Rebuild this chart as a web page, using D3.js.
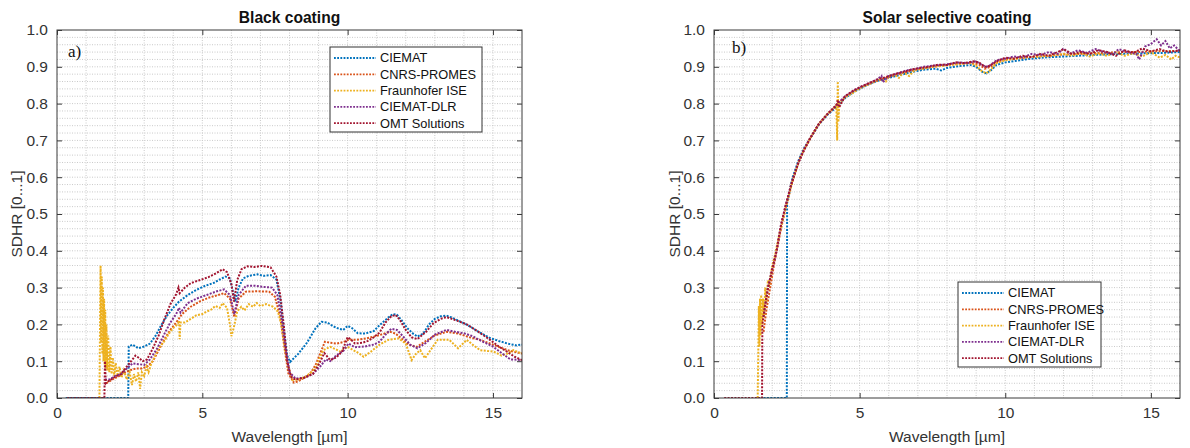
<!DOCTYPE html>
<html>
<head>
<meta charset="utf-8">
<script src="https://cdn.jsdelivr.net/npm/d3@7"></script>
<style>
  body { margin: 0; background: #fff; }
  text { font-family: "Liberation Sans", Arial, sans-serif; }
</style>
</head>
<body>
<svg id="chart" width="1190" height="448"></svg>
<script>
// Series names and colours (MATLAB default order)
const seriesNames = ['CIEMAT', 'CNRS-PROMES', 'Fraunhofer ISE', 'CIEMAT-DLR', 'OMT Solutions'];
const seriesColors = ['#0072BD', '#D95319', '#EDB120', '#7E2F8E', '#A2142F'];

// Tick labels
const xTicks = [0, 5, 10, 15];
const yTicks = [0, 0.1, 0.2, 0.3, 0.4, 0.5, 0.6, 0.7, 0.8, 0.9, 1.0];

// ---- a) Black coating: [wavelength µm, SDHR] ----
const blackCiemat = [[0.3,0],[2.45,0],[2.47,0.14],[2.6,0.145],[2.8,0.135],[3.0,0.14],[3.2,0.148],[3.4,0.17],[3.6,0.2],[3.8,0.225],[4.0,0.245],[4.2,0.262],[4.5,0.28],[4.8,0.294],[5.1,0.305],[5.4,0.313],[5.6,0.322],[5.8,0.33],[5.95,0.325],[6.05,0.29],[6.13,0.262],[6.25,0.3],[6.4,0.325],[6.6,0.332],[6.9,0.336],[7.1,0.332],[7.35,0.334],[7.55,0.322],[7.7,0.26],[7.8,0.19],[7.92,0.115],[8.02,0.098],[8.3,0.12],[8.6,0.15],[8.9,0.19],[9.1,0.207],[9.3,0.205],[9.5,0.195],[9.7,0.188],[9.85,0.185],[10.0,0.196],[10.15,0.19],[10.35,0.176],[10.6,0.175],[10.9,0.182],[11.1,0.198],[11.3,0.212],[11.55,0.228],[11.7,0.226],[11.85,0.212],[12.05,0.19],[12.25,0.175],[12.4,0.167],[12.6,0.175],[12.8,0.2],[13.0,0.215],[13.2,0.222],[13.4,0.224],[13.6,0.218],[13.9,0.207],[14.2,0.195],[14.5,0.18],[14.9,0.163],[15.2,0.155],[15.5,0.148],[15.8,0.143],[16,0.145]];
const blackCnrs = [[1.7,0.04],[1.9,0.05],[2.1,0.058],[2.3,0.068],[2.5,0.075],[2.7,0.08],[2.9,0.08],[3.1,0.085],[3.3,0.1],[3.5,0.13],[3.7,0.16],[3.9,0.185],[4.1,0.205],[4.3,0.228],[4.6,0.248],[4.9,0.262],[5.2,0.272],[5.55,0.28],[5.75,0.285],[5.95,0.27],[6.1,0.22],[6.25,0.27],[6.5,0.289],[6.9,0.29],[7.3,0.289],[7.5,0.275],[7.68,0.221],[7.82,0.14],[7.96,0.067],[8.15,0.042],[8.3,0.045],[8.5,0.055],[8.7,0.065],[8.9,0.09],[9.05,0.12],[9.22,0.153],[9.4,0.15],[9.63,0.148],[9.85,0.152],[10.03,0.158],[10.3,0.158],[10.66,0.162],[11.1,0.171],[11.46,0.18],[11.65,0.175],[11.85,0.162],[12.1,0.145],[12.38,0.139],[12.7,0.155],[13.0,0.17],[13.41,0.18],[13.8,0.175],[14.2,0.165],[14.56,0.158],[15.0,0.145],[15.5,0.13],[16,0.121]];
const blackFraunhofer = [[1.46,0],[1.48,0.2],[1.5,0.36],[1.52,0.15],[1.54,0.33],[1.56,0.12],[1.58,0.3],[1.6,0.1],[1.62,0.27],[1.64,0.09],[1.66,0.24],[1.68,0.08],[1.7,0.2],[1.73,0.075],[1.76,0.17],[1.8,0.07],[1.84,0.14],[1.88,0.065],[1.92,0.11],[1.97,0.06],[2.02,0.095],[2.08,0.06],[2.15,0.085],[2.22,0.055],[2.3,0.075],[2.4,0.05],[2.5,0.07],[2.58,0.035],[2.65,0.065],[2.72,0.045],[2.8,0.07],[2.86,0.025],[2.92,0.07],[3.0,0.06],[3.08,0.085],[3.15,0.07],[3.25,0.095],[3.35,0.11],[3.45,0.13],[3.55,0.14],[3.7,0.155],[3.85,0.175],[4.0,0.19],[4.15,0.2],[4.2,0.21],[4.22,0.16],[4.25,0.205],[4.4,0.205],[4.6,0.215],[4.8,0.225],[5.0,0.228],[5.15,0.235],[5.3,0.24],[5.45,0.25],[5.6,0.245],[5.7,0.258],[5.85,0.245],[5.95,0.2],[6.0,0.168],[6.08,0.19],[6.2,0.235],[6.34,0.248],[6.45,0.238],[6.6,0.255],[6.75,0.248],[6.87,0.258],[7.0,0.25],[7.2,0.255],[7.44,0.248],[7.6,0.235],[7.72,0.2],[7.85,0.13],[7.96,0.085],[8.1,0.049],[8.3,0.05],[8.56,0.058],[8.75,0.07],[8.93,0.085],[9.05,0.11],[9.16,0.13],[9.4,0.139],[9.6,0.132],[9.75,0.126],[10.0,0.139],[10.2,0.13],[10.4,0.121],[10.55,0.112],[10.8,0.126],[11.1,0.145],[11.4,0.158],[11.75,0.162],[12.0,0.148],[12.2,0.103],[12.35,0.12],[12.5,0.13],[12.66,0.108],[12.85,0.13],[13.1,0.158],[13.5,0.158],[13.8,0.135],[14.1,0.158],[14.3,0.145],[14.56,0.13],[15.03,0.126],[15.3,0.115],[15.5,0.121],[15.7,0.13],[16,0.121]];
const blackDlr = [[1.65,0.05],[1.8,0.05],[2.0,0.06],[2.2,0.065],[2.4,0.08],[2.6,0.094],[2.8,0.092],[3.0,0.09],[3.2,0.105],[3.45,0.135],[3.7,0.175],[3.9,0.205],[4.1,0.228],[4.2,0.245],[4.25,0.232],[4.5,0.258],[4.8,0.27],[5.15,0.28],[5.5,0.29],[5.75,0.295],[5.95,0.28],[6.1,0.228],[6.25,0.28],[6.5,0.305],[6.8,0.305],[7.1,0.302],[7.4,0.3],[7.58,0.28],[7.72,0.22],[7.85,0.14],[8.0,0.07],[8.2,0.053],[8.5,0.055],[8.8,0.065],[9.05,0.085],[9.25,0.105],[9.4,0.1],[9.63,0.117],[9.85,0.128],[10.03,0.148],[10.25,0.138],[10.6,0.14],[10.9,0.145],[11.1,0.153],[11.3,0.172],[11.5,0.188],[11.7,0.185],[11.9,0.168],[12.15,0.145],[12.4,0.135],[12.7,0.15],[13.0,0.172],[13.4,0.185],[13.7,0.18],[14.0,0.176],[14.3,0.168],[14.6,0.155],[15.0,0.14],[15.3,0.122],[15.6,0.105],[16,0.103]];
const blackOmt = [[0.35,0],[1.63,0],[1.65,0.1],[1.68,0.04],[1.75,0.045],[1.85,0.05],[2.0,0.058],[2.2,0.065],[2.4,0.085],[2.55,0.1],[2.7,0.115],[2.8,0.11],[2.95,0.1],[3.1,0.105],[3.3,0.135],[3.5,0.17],[3.7,0.215],[3.9,0.255],[4.1,0.282],[4.18,0.3],[4.22,0.285],[4.4,0.3],[4.6,0.312],[4.9,0.32],[5.2,0.328],[5.45,0.338],[5.7,0.35],[5.85,0.342],[6.0,0.31],[6.09,0.262],[6.2,0.32],[6.35,0.35],[6.55,0.358],[6.8,0.356],[7.05,0.359],[7.35,0.355],[7.55,0.33],[7.68,0.28],[7.8,0.2],[7.92,0.1],[8.05,0.058],[8.2,0.05],[8.5,0.055],[8.8,0.065],[9.0,0.09],[9.2,0.122],[9.4,0.103],[9.6,0.11],[9.8,0.125],[10.0,0.165],[10.1,0.16],[10.25,0.148],[10.5,0.15],[10.7,0.155],[10.9,0.165],[11.1,0.178],[11.3,0.205],[11.5,0.222],[11.65,0.226],[11.8,0.212],[12.0,0.185],[12.2,0.165],[12.4,0.16],[12.7,0.18],[12.95,0.203],[13.2,0.215],[13.4,0.22],[13.7,0.212],[14.1,0.2],[14.5,0.18],[14.9,0.158],[15.2,0.14],[15.5,0.125],[15.75,0.112],[16,0.103]];

// ---- b) Solar selective coating ----
const solarCiemat = [[1.7,0],[2.5,0],[2.51,0.53],[2.7,0.6],[2.9,0.645],[3.1,0.68],[3.3,0.705],[3.6,0.743],[3.9,0.77],[4.2,0.79],[4.5,0.815],[4.8,0.832],[5.0,0.84],[5.3,0.852],[5.63,0.862],[5.9,0.868],[6.2,0.874],[6.5,0.88],[6.8,0.886],[7.2,0.892],[7.6,0.895],[7.8,0.89],[8.0,0.897],[8.4,0.902],[8.8,0.905],[9.0,0.9],[9.2,0.887],[9.35,0.882],[9.5,0.89],[9.7,0.905],[10.0,0.912],[10.5,0.918],[11,0.923],[11.5,0.926],[12,0.928],[12.5,0.93],[13,0.932],[13.5,0.934],[14,0.935],[14.5,0.936],[15,0.937],[15.5,0.938],[16,0.94]];
const solarCnrs = [[1.7,0.18],[1.8,0.24],[1.95,0.31],[2.1,0.38],[2.3,0.46],[2.5,0.53],[2.7,0.59],[2.9,0.64],[3.1,0.677],[3.3,0.706],[3.6,0.744],[3.9,0.772],[4.2,0.795],[4.5,0.818],[4.8,0.834],[5.1,0.846],[5.4,0.856],[5.7,0.865],[6.0,0.872],[6.3,0.88],[6.6,0.886],[6.9,0.892],[7.2,0.896],[7.5,0.9],[7.8,0.903],[8.1,0.906],[8.4,0.908],[8.8,0.911],[9.1,0.906],[9.3,0.895],[9.5,0.9],[9.7,0.912],[10.0,0.92],[10.5,0.924],[11.0,0.928],[11.5,0.93],[12.0,0.934],[12.5,0.935],[13.0,0.937],[13.5,0.938],[14.0,0.94],[14.5,0.94],[15.0,0.942],[15.5,0.943],[16,0.943]];
const solarFraunhofer = [[1.5,0],[1.52,0.12],[1.54,0.25],[1.56,0.14],[1.58,0.27],[1.6,0.17],[1.62,0.28],[1.65,0.2],[1.68,0.27],[1.72,0.22],[1.76,0.3],[1.8,0.26],[1.85,0.32],[1.9,0.31],[2.0,0.36],[2.1,0.39],[2.2,0.43],[2.35,0.48],[2.5,0.53],[2.7,0.59],[2.9,0.64],[3.1,0.675],[3.3,0.705],[3.6,0.745],[3.9,0.772],[4.2,0.795],[4.23,0.7],[4.25,0.86],[4.27,0.75],[4.3,0.8],[4.5,0.818],[4.8,0.83],[5.0,0.842],[5.3,0.852],[5.5,0.86],[5.7,0.866],[5.9,0.86],[6.0,0.875],[6.2,0.878],[6.35,0.87],[6.5,0.885],[6.7,0.875],[6.9,0.892],[7.2,0.895],[7.5,0.9],[7.8,0.902],[8.1,0.905],[8.4,0.907],[8.8,0.91],[9.0,0.903],[9.2,0.888],[9.35,0.882],[9.5,0.892],[9.7,0.91],[10.0,0.918],[10.4,0.922],[10.8,0.926],[11.2,0.928],[11.6,0.93],[12.0,0.935],[12.3,0.93],[12.6,0.938],[12.9,0.928],[13.2,0.936],[13.5,0.93],[13.8,0.94],[14.1,0.93],[14.4,0.937],[14.7,0.928],[15.0,0.94],[15.3,0.925],[15.5,0.932],[15.7,0.92],[15.85,0.93],[16,0.925]];
const solarDlr = [[1.7,0.22],[1.85,0.3],[2.0,0.35],[2.15,0.4],[2.3,0.47],[2.45,0.52],[2.65,0.58],[2.9,0.64],[3.1,0.676],[3.3,0.706],[3.6,0.745],[3.9,0.772],[4.2,0.796],[4.5,0.82],[4.8,0.836],[5.1,0.848],[5.4,0.858],[5.6,0.866],[5.75,0.875],[5.8,0.858],[6.0,0.875],[6.3,0.882],[6.6,0.89],[6.9,0.894],[7.2,0.9],[7.5,0.903],[7.8,0.905],[8.1,0.908],[8.4,0.912],[8.7,0.91],[9.0,0.915],[9.2,0.905],[9.35,0.9],[9.5,0.905],[9.7,0.918],[10.0,0.922],[10.3,0.928],[10.6,0.925],[10.9,0.935],[11.2,0.932],[11.5,0.94],[11.8,0.935],[12.0,0.95],[12.2,0.935],[12.5,0.945],[12.8,0.938],[13.1,0.948],[13.4,0.94],[13.7,0.935],[13.9,0.948],[14.2,0.94],[14.5,0.935],[14.6,0.92],[14.8,0.955],[15.0,0.962],[15.2,0.975],[15.35,0.958],[15.5,0.97],[15.65,0.95],[15.8,0.958],[16,0.942]];
const solarOmt = [[0.35,0],[1.65,0],[1.66,0.2],[1.75,0.25],[1.86,0.3],[2.0,0.35],[2.15,0.4],[2.3,0.47],[2.45,0.52],[2.65,0.58],[2.9,0.64],[3.1,0.675],[3.3,0.705],[3.6,0.745],[3.9,0.772],[4.2,0.795],[4.25,0.81],[4.3,0.79],[4.5,0.82],[4.8,0.836],[5.1,0.848],[5.4,0.858],[5.63,0.866],[5.9,0.872],[6.2,0.88],[6.5,0.886],[6.8,0.893],[7.1,0.897],[7.4,0.9],[7.7,0.906],[8.0,0.905],[8.3,0.912],[8.6,0.91],[8.9,0.915],[9.1,0.912],[9.3,0.9],[9.45,0.902],[9.7,0.915],[10.0,0.925],[10.3,0.922],[10.6,0.93],[10.9,0.926],[11.2,0.935],[11.5,0.93],[11.8,0.94],[12.0,0.948],[12.3,0.935],[12.6,0.94],[12.9,0.935],[13.2,0.945],[13.5,0.94],[13.8,0.93],[14.1,0.945],[14.4,0.938],[14.7,0.95],[15.0,0.942],[15.3,0.948],[15.6,0.94],[16,0.945]];

const svg = d3.select('#chart');

function drawPanel(opt) {
  const x = d3.scaleLinear().domain([0, 16]).range([opt.left, opt.right]);
  const y = d3.scaleLinear().domain([0, 1]).range([opt.bottom, opt.top]);
  const g = svg.append('g');

  // minor + major grid (dotted, light)
  g.append('g').selectAll('line')
      .data(d3.range(1, 16))
    .enter().append('line')
      .attr('x1', d => x(d)).attr('x2', d => x(d))
      .attr('y1', opt.top).attr('y2', opt.bottom)
      .attr('stroke', '#cacaca').attr('stroke-dasharray', '1,1.5');
  g.append('g').selectAll('line')
      .data(d3.range(1, 50).map(i => i * 0.02))
    .enter().append('line')
      .attr('x1', opt.left).attr('x2', opt.right)
      .attr('y1', d => y(d)).attr('y2', d => y(d))
      .attr('stroke', '#cacaca').attr('stroke-dasharray', '1,1.5');

  // curves
  const line = d3.line().x(d => x(d[0])).y(d => y(d[1]));
  const clipId = 'clip' + opt.id;
  svg.append('clipPath').attr('id', clipId).append('rect')
      .attr('x', opt.left).attr('y', opt.top)
      .attr('width', opt.right - opt.left).attr('height', opt.bottom - opt.top);
  g.append('g').attr('clip-path', 'url(#' + clipId + ')')
    .selectAll('path')
      .data(opt.series)
    .enter().append('path')
      .attr('d', d => line(d))
      .attr('fill', 'none')
      .attr('stroke', (d, i) => seriesColors[i])
      .attr('stroke-width', 2)
      .attr('stroke-dasharray', '2,1.4');

  // axes box with inward ticks on all sides
  const axisColor = '#3a3a3a';
  g.append('rect')
      .attr('x', opt.left).attr('y', opt.top)
      .attr('width', opt.right - opt.left).attr('height', opt.bottom - opt.top)
      .attr('fill', 'none').attr('stroke', axisColor).attr('stroke-width', 1);

  const bottomAxis = d3.axisBottom(x).tickValues(xTicks).tickSize(-5).tickPadding(9);
  const topAxis = d3.axisTop(x).tickValues(xTicks).tickSize(-5).tickFormat('');
  const leftAxis = d3.axisLeft(y).tickValues(yTicks).tickSize(-5).tickPadding(9).tickFormat(d3.format('.1f'));
  const rightAxis = d3.axisRight(y).tickValues(yTicks).tickSize(-5).tickFormat('');

  [[bottomAxis, 'translate(0,' + opt.bottom + ')'],
   [topAxis, 'translate(0,' + opt.top + ')'],
   [leftAxis, 'translate(' + opt.left + ',0)'],
   [rightAxis, 'translate(' + opt.right + ',0)']].forEach(([ax, tr]) => {
    const a = g.append('g').attr('transform', tr).call(ax);
    a.select('.domain').remove();
    a.selectAll('line').attr('stroke', axisColor);
    a.selectAll('text')
      .style('font-family', '"Liberation Sans", Arial, sans-serif')
      .style('font-size', '15.5px')
      .attr('fill', '#333');
  });

  // title
  g.append('text')
      .attr('x', (opt.left + opt.right) / 2).attr('y', 23)
      .attr('text-anchor', 'middle')
      .style('font-size', '15.6px').style('font-weight', 'bold')
      .attr('fill', '#111')
      .text(opt.title);

  // axis labels
  g.append('text')
      .attr('x', (opt.left + opt.right) / 2).attr('y', 442)
      .attr('text-anchor', 'middle')
      .style('font-size', '15.5px').attr('fill', '#333')
      .text('Wavelength [µm]');
  g.append('text')
      .attr('transform', 'translate(' + opt.ylabelX + ',' + ((opt.top + opt.bottom) / 2) + ') rotate(-90)')
      .attr('text-anchor', 'middle')
      .attr('dy', '0.35em')
      .style('font-size', '15.5px').attr('fill', '#333')
      .text('SDHR [0...1]');

  // panel letter
  g.append('text')
      .attr('x', opt.letterX).attr('y', opt.letterY)
      .style('font-family', '"Liberation Serif", "Times New Roman", serif')
      .style('font-size', '17px').attr('fill', '#111')
      .text(opt.letter);

  // legend
  const lg = g.append('g').attr('transform', 'translate(' + opt.legendX + ',' + opt.legendY + ')');
  lg.append('rect')
      .attr('width', opt.legendW).attr('height', 85)
      .attr('fill', '#fff').attr('stroke', '#333').attr('stroke-width', 1);
  const item = lg.selectAll('.item')
      .data(seriesNames)
    .enter().append('g')
      .attr('transform', (d, i) => 'translate(0,' + (11 + i * 16.3) + ')');
  item.append('line')
      .attr('x1', 4).attr('x2', 46)
      .attr('stroke', (d, i) => seriesColors[i])
      .attr('stroke-width', 1.8).attr('stroke-dasharray', '1.8,1.4');
  item.append('text')
      .attr('x', 50).attr('dy', '0.35em')
      .style('font-size', '12.8px').attr('fill', '#111')
      .text(d => d);
}

drawPanel({
  id: 'a', left: 57, right: 522, top: 30, bottom: 398,
  title: 'Black coating', letter: 'a)', letterX: 68, letterY: 57, ylabelX: 17,
  legendX: 330, legendY: 47, legendW: 152,
  series: [blackCiemat, blackCnrs, blackFraunhofer, blackDlr, blackOmt]
});

drawPanel({
  id: 'b', left: 714, right: 1180, top: 30, bottom: 398,
  title: 'Solar selective coating', letter: 'b)', letterX: 732, letterY: 53, ylabelX: 675,
  legendX: 958, legendY: 282, legendW: 143,
  series: [solarCiemat, solarCnrs, solarFraunhofer, solarDlr, solarOmt]
});
</script>
</body>
</html>
